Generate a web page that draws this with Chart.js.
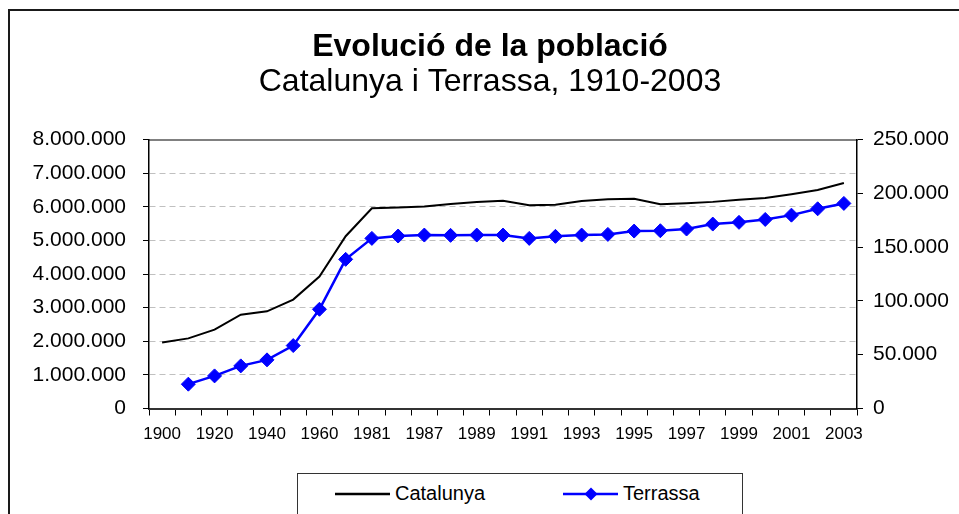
<!DOCTYPE html>
<html lang="ca">
<head>
<meta charset="UTF-8">
<title>Evolució de la població</title>
<script src="https://cdn.jsdelivr.net/npm/chart.js"></script>
<style>
    * {
        margin: 0;
        padding: 0;
        box-sizing: border-box;
    }

    body {
        width: 959px;
        height: 514px;
        overflow: hidden;
        background: white;
        position: relative;
        font-family: 'Liberation Sans', Arial, sans-serif;
    }

    .frame {
        position: absolute;
        left: 8px;
        top: 9px;
        width: 1000px;
        height: 600px;
        border: 2px solid #1a1a1a;
    }

    #chart {
        position: absolute;
        left: 0;
        top: 0;
    }

    .legend {
        position: absolute;
        left: 297px;
        top: 473px;
        width: 446px;
        height: 60px;
        border: 1px solid #333;
        background: white;
    }

    .legend .item {
        position: absolute;
        top: 8px;
        display: flex;
        align-items: center;
        font-size: 20px;
        color: #000;
    }

    .legend svg {
        margin-right: 5px;
    }
</style>
</head>
<body>
<div class="frame"></div>
<canvas id="chart" width="959" height="514"></canvas>

<div class="legend">
    <div class="item" style="left:37px">
        <svg width="55" height="16"><line x1="0" y1="8" x2="55" y2="8" stroke="#000" stroke-width="2.5"/></svg>
        Catalunya
    </div>
    <div class="item" style="left:265px">
        <svg width="55" height="16">
            <line x1="0" y1="8" x2="55" y2="8" stroke="#0000ff" stroke-width="2.5"/>
            <polygon points="21.5,8 28,1.5 34.5,8 28,14.5" fill="#0000ff"/>
        </svg>
        Terrassa
    </div>
</div>

<script>
    // categories (anys)
    const years = ['1900', '1910', '1920', '1930', '1940', '1950', '1960', '1970', '1981', '1986',
        '1987', '1988', '1989', '1990', '1991', '1992', '1993', '1994', '1995', '1996',
        '1997', '1998', '1999', '2000', '2001', '2002', '2003'];

    // població de Catalunya (eix esquerre)
    const catalunya = [1966000, 2085000, 2345000, 2791000, 2891000, 3240000, 3926000, 5123000, 5956000, 5978000,
        6005000, 6080000, 6140000, 6180000, 6045000, 6062000, 6170000, 6225000, 6240000, 6075000,
        6105000, 6145000, 6210000, 6262000, 6375000, 6500000, 6704000];

    // població de Terrassa (eix dret)
    const terrassa = [null, 22600, 30300, 39600, 45200, 58500, 92200, 138600, 158100, 160300,
        161200, 160900, 161200, 161200, 158100, 160000, 161200, 161800, 164900, 165200,
        166800, 171400, 173000, 175700, 179700, 185600, 190600];

    const leftAxis = { max: 8000000, step: 1000000 };
    const rightAxis = { max: 250000, step: 50000 };

    const FONT = "'Liberation Sans', Arial, sans-serif";

    // 8000000 -> 8.000.000
    function fmt(v) {
        return String(v).replace(/\B(?=(\d{3})+(?!\d))/g, '.');
    }

    new Chart(document.getElementById('chart'), {
        type: 'line',
        data: {
            labels: years,
            datasets: [{
                label: 'Catalunya',
                data: catalunya,
                yAxisID: 'y',
                borderColor: '#000',
                borderWidth: 2,
                pointRadius: 0,
                tension: 0
            }, {
                label: 'Terrassa',
                data: terrassa,
                yAxisID: 'y1',
                borderColor: '#0000ff',
                backgroundColor: '#0000ff',
                borderWidth: 2.5,
                pointStyle: 'rectRot',
                pointRadius: 7,
                pointBorderWidth: 1,
                tension: 0
            }]
        },
        options: {
            responsive: false,
            animation: false,
            devicePixelRatio: 1,
            font: { family: FONT },
            layout: { padding: { left: 21, right: 0, top: 0, bottom: 0 } },
            plugins: {
                legend: { display: false },
                title: {
                    display: true,
                    text: 'Evolució de la població',
                    color: '#000',
                    font: { family: FONT, size: 32, weight: 'bold', lineHeight: 1 },
                    padding: { top: 31, bottom: 0 }
                },
                subtitle: {
                    display: true,
                    text: 'Catalunya i Terrassa, 1910-2003',
                    color: '#000',
                    font: { family: FONT, size: 32, weight: 'normal', lineHeight: 1 },
                    padding: { top: 3, bottom: 0 }
                }
            },
            scales: {
                x: {
                    type: 'category',
                    offset: true,
                    grid: {
                        offset: true,
                        drawOnChartArea: false,
                        color: '#000',
                        tickColor: '#000',
                        tickLength: 7
                    },
                    border: { color: '#333', width: 2 },
                    ticks: {
                        autoSkip: false,
                        maxRotation: 0,
                        minRotation: 0,
                        padding: 9,
                        color: '#000',
                        font: { family: FONT, size: 17 },
                        callback: (v, i) => i % 2 === 0 ? years[i] : ''
                    },
                    afterFit: s => { s.height = 105.5; }
                },
                x2: {
                    type: 'category',
                    position: 'top',
                    grid: { display: false },
                    ticks: { display: false },
                    border: { color: '#808080', width: 2 },
                    afterFit: s => { s.height = 41.5; }
                },
                y: {
                    position: 'left',
                    min: 0,
                    max: leftAxis.max,
                    grid: {
                        color: ctx => (ctx.tick && (ctx.tick.value === 0 || ctx.tick.value === leftAxis.max)) ? 'rgba(0,0,0,0)' : '#c0c0c0',
                        tickColor: '#000',
                        tickLength: 6,
                        lineWidth: 1
                    },
                    border: { color: '#000', width: 1.5, dash: [6, 4] },
                    ticks: {
                        stepSize: leftAxis.step,
                        padding: 17,
                        color: '#000',
                        font: { family: FONT, size: 21 },
                        callback: v => fmt(v)
                    },
                    afterFit: s => { s.width = 128; }
                },
                y1: {
                    position: 'right',
                    min: 0,
                    max: rightAxis.max,
                    grid: {
                        drawOnChartArea: false,
                        color: '#000',
                        tickColor: '#000',
                        tickLength: 6
                    },
                    border: { color: '#000', width: 1.5 },
                    ticks: {
                        stepSize: rightAxis.step,
                        padding: 10,
                        color: '#000',
                        font: { family: FONT, size: 21 },
                        callback: v => fmt(v)
                    },
                    afterFit: s => { s.width = 102; }
                }
            }
        }
    });
</script>
</body>
</html>
